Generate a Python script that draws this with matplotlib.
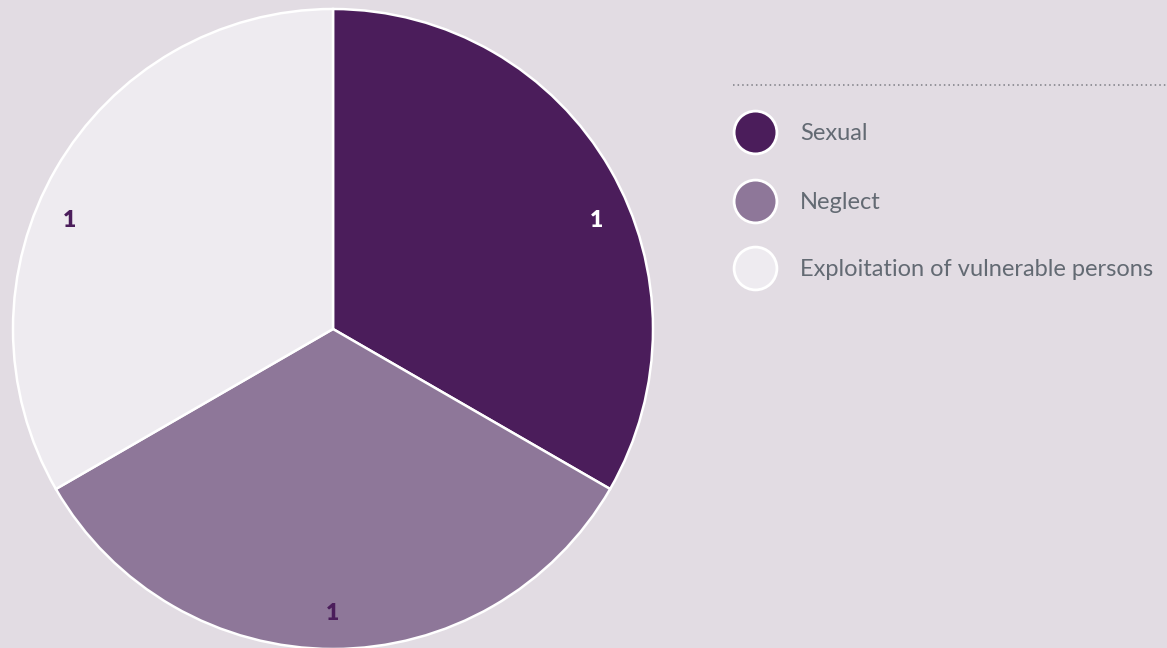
import numpy as np
import matplotlib
matplotlib.use("Agg")
import matplotlib.pyplot as plt

# data
categories = ["Sexual", "Neglect", "Exploitation of vulnerable persons"]
values = [1, 1, 1]
colors = ["#4B1D5B", "#8E7799", "#EEEBF0"]
label_colors = ["white", "#4B1D5B", "#4B1D5B"]

BG = "#E2DCE3"
W, H = 1167, 648

fig = plt.figure(figsize=(W / 100, H / 100), dpi=100, facecolor=BG)

# pie: centre (333, 329), radius 320 px
cx, cy, r = 333, 329, 320
ax = fig.add_axes([(cx - r) / W, (H - cy - r) / H, 2 * r / W, 2 * r / H])
ax.set_facecolor(BG)
wedges, texts = ax.pie(
    values, colors=colors, startangle=90, counterclock=False,
    labels=[str(v) for v in values], labeldistance=0.89,
    wedgeprops=dict(edgecolor="white", linewidth=1.8),
    textprops=dict(fontsize=16.5, fontweight="heavy", family="Lato"),
)
# labels sit a bit closer to the horizontal than the wedge middle
shift = [-7.5, 0, 7.5]
for w, t, c, s in zip(wedges, texts, label_colors, shift):
    mid = np.deg2rad((w.theta1 + w.theta2) / 2 + s)
    t.set_position((0.89 * np.cos(mid), 0.89 * np.sin(mid)))
    t.set_color(c)
    t.set_ha("center")
    t.set_va("center")
ax.set_xlim(-1, 1)
ax.set_ylim(-1, 1)
ax.axis("off")

# legend drawn in pixel coordinates
lg = fig.add_axes([0, 0, 1, 1], facecolor="none")
lg.set_xlim(0, W)
lg.set_ylim(H, 0)
lg.axis("off")
lg.plot([733, W], [85, 85], color="#7d7d85", lw=1.1, linestyle=(0, (1, 2)))
ys = [132, 201, 268]
for y, lab, c in zip(ys, categories, colors):
    lg.scatter([755], [y], s=950, color=c, edgecolor="white", linewidth=2, zorder=3)
    lg.text(800, y + 1.5, lab, fontsize=17, color="#636A73", va="center", ha="left",
            family="Lato")

fig.savefig("out.png", dpi=100, facecolor=BG)
